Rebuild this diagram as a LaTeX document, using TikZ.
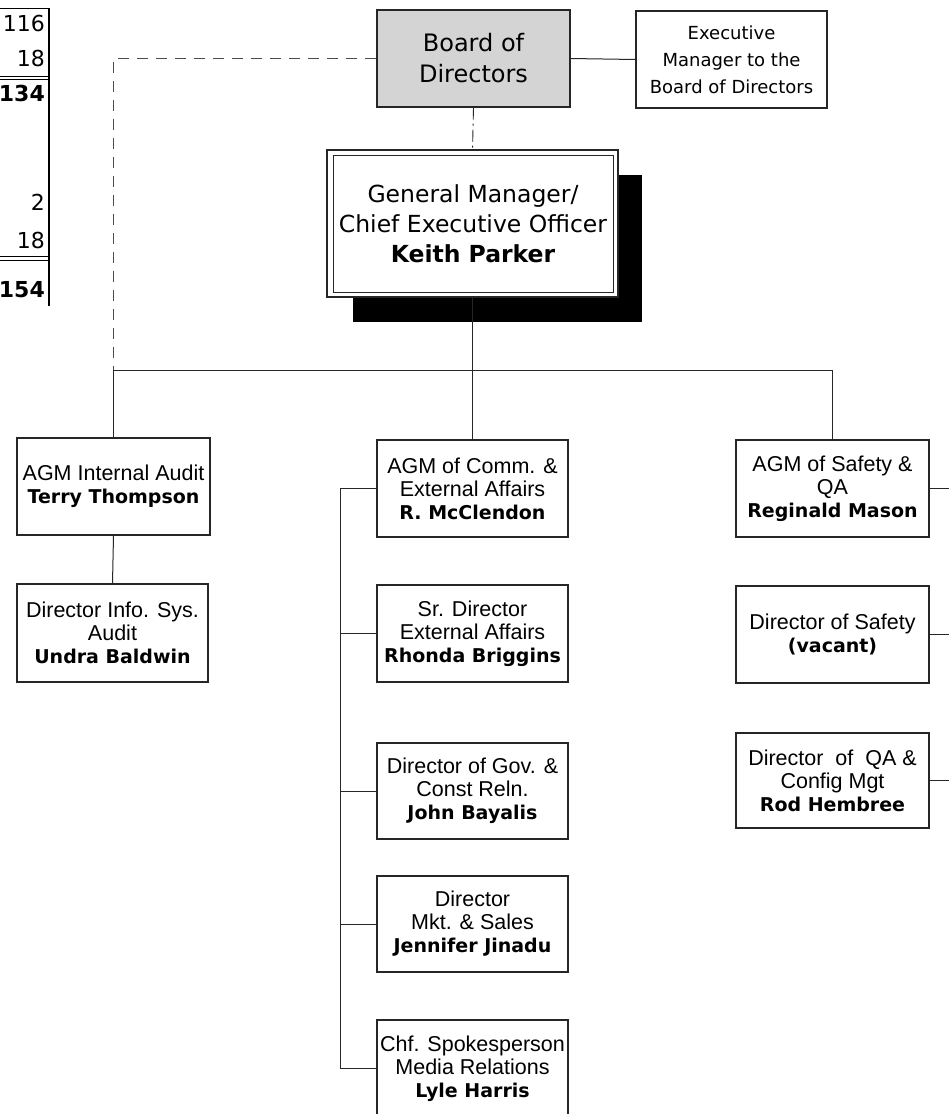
\documentclass[tikz,border=0pt]{standalone}
\usepackage{fontspec}
\newfontfamily\arialf{Liberation Sans}
\newfontfamily\verd{DejaVu Sans}
\newcommand\nm[1]{{\verd\bfseries\fontsize{19}{23}\selectfont #1}}
\newcommand\gmname[1]{{\verd\bfseries\fontsize{23.5}{30}\selectfont #1}}
\begin{document}
\begin{tikzpicture}[x=1pt,y=-1pt,
  line/.style={line width=1pt, black!85},
  unit/.style={draw=black!85, line width=1.1pt, fill=white, minimum width=193pt,
    minimum height=97pt, align=center, inner sep=0pt,
    font=\arialf\fontsize{21.5}{23}\selectfont},
  num/.style={anchor=east, inner sep=0pt, font=\verd\fontsize{22}{24}\selectfont},
  numbold/.style={num, font=\verd\bfseries\fontsize{22}{24}\selectfont}]
\useasboundingbox (0,0) rectangle (949,1114);
\fill[white] (0,0) rectangle (949,1114);

% summary table cut at the left edge
\draw[line width=0.9pt] (0,8) -- (49,8);
\draw[line width=1.1pt] (49,8) -- (49,306);
\draw[line width=0.8pt] (0,76) -- (49,76) (0,79.5) -- (49,79.5);
\draw[line width=0.8pt] (0,256.5) -- (49,256.5) (0,260) -- (49,260);
\node[num] (t1) at (45,23) {116};
\node[num] (t2) at (45,58) {18};
\node[numbold] (t3) at (45,93) {134};
\node[num] (t4) at (45,202) {2};
\node[num] (t5) at (45,240) {18};
\node[numbold] (t6) at (45,290) {154};

% board and its executive manager
\node[unit, fill=black!17, minimum width=193pt, font=\verd\fontsize{24}{31}\selectfont]
  (board) at (473.5,58.5) {Board of\\Directors};
\node[unit, minimum width=191pt, font=\verd\fontsize{18}{27}\selectfont]
  (exec) at (731.5,59.5) {Executive\\Manager to the\\Board of Directors};
\draw[line] (board.east) -- (exec.west);

% general manager with drop shadow and double frame
\fill[black] (353,175) rectangle (642,322);
\node[unit, minimum width=291pt, minimum height=147pt] (gmout) at (472.5,223.5) {};
\node[draw=black!85, line width=1pt, minimum width=280pt, minimum height=137pt,
  align=center, inner sep=0pt, font=\verd\fontsize{23.5}{30}\selectfont]
  (gm) at (473,223.5) {General Manager/\\Chief Executive Officer\\\gmname{Keith Parker}};
\draw[line, line width=0.9pt, dash pattern=on 12pt off 4pt on 2pt off 4pt]
  (board.south) -- (gmout.north);

% direct reports
\node[unit] (audit) at (113.5,486.5) {AGM Internal Audit\\\nm{Terry Thompson}};
\node[unit, minimum width=191pt, minimum height=98pt] (isaudit) at (112.5,633)
  {Director Info. Sys.\\Audit\\\nm{Undra Baldwin}};
\node[unit, minimum width=191pt] (comm) at (472.5,488.5)
  {AGM of Comm. \&\\External Affairs\\\nm{R. McClendon}};
\node[unit, minimum width=191pt] (extaff) at (472.5,633.5)
  {Sr. Director\\External Affairs\\\nm{Rhonda Briggins}};
\node[unit, minimum width=191pt, minimum height=96pt] (gov) at (472.5,791)
  {Director of Gov. \&\\Const Reln.\\\nm{John Bayalis}};
\node[unit, minimum width=191pt, minimum height=96pt] (mkt) at (472.5,924)
  {Director\\Mkt. \& Sales\\\nm{Jennifer Jinadu}};
\node[unit, minimum width=191pt] (media) at (472.5,1068.5)
  {Chf. Spokesperson\\Media Relations\\\nm{Lyle Harris}};
\node[unit] (safety) at (832.5,488.5) {AGM of Safety \&\\QA\\\nm{Reginald Mason}};
\node[unit] (dsafety) at (832.5,634.5) {Director of Safety\\\nm{(vacant)}};
\node[unit, minimum height=95pt] (qa) at (832.5,780.5)
  {Director~~of~~QA \&\\Config Mgt\\\nm{Rod Hembree}};

% reporting lines
\coordinate (busL) at (113.5,370);
\coordinate (busR) at (832.5,370);
\coordinate (mbus) at (340,488.5);
\coordinate (edge) at (951,0);
\draw[line] (gmout.south) -- (comm.north);
\draw[line] (audit.north) -- (busL) -- (busR) -- (safety.north);
\draw[line] (audit.south) -- (isaudit.north);
\draw[line, black!70, line width=0.8pt, dash pattern=on 11pt off 8pt]
  (board.west) -| (busL);
\draw[line] (comm.west) -- (mbus) |- (media.west);
\foreach \n in {extaff,gov,mkt}
  \draw[line] (\n.west) -- (\n.west -| mbus);
\foreach \n in {safety,dsafety,qa}
  \draw[line] (\n.east) -- (\n.east -| edge);
\end{tikzpicture}
\end{document}
